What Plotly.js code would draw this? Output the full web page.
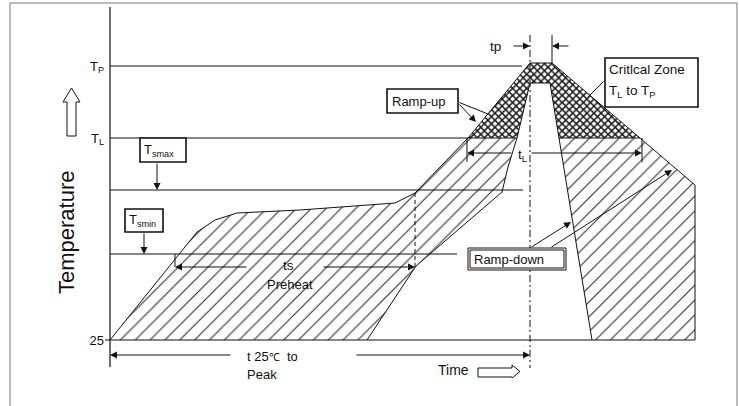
<!DOCTYPE html>
<html><head><meta charset="utf-8">
<script src="https://cdn.plot.ly/plotly-3.0.1.min.js"></script>
<style>html,body{margin:0;padding:0;background:#fff}#chart{width:739px;height:406px}</style>
</head><body><div id="chart"></div>
<script>
// ---- schematic data (time units from start, temperature units above 25 °C baseline) ----
const levelNames = ['25', 'Tsmin', 'Tsmax', 'TL', 'TP'];
const levelTemps = [0, 86, 150, 202, 274];
const tickLabels = ['25', 'T<sub>L</sub>', 'T<sub>P</sub>'];
const tickTemps = [0, 202, 274];

// maximum (upper) profile
const maxTime = [0, 87, 105, 127, 190, 285, 305, 358, 420, 442, 530, 585, 585];
const maxTemp = [0, 108, 120, 127, 130, 137, 147, 202, 277, 277, 202, 155, 0];
// minimum (lower) profile
const minTime = [257, 306, 392, 398, 407, 420, 440, 449, 482];
const minTemp = [0, 74, 148, 173, 202, 257, 257, 202, 0];

// time markers
const markerNames = ['tsStart', 'tsEnd', 'tLStart', 'tLEnd', 'tpStart', 'tpEnd'];
const markerTimes = [65, 305, 357, 532, 420, 442];

// ---- build geometry from the arrays ----
const FONT = 'Liberation Sans, Arial, sans-serif';
const TL = levelTemps[3];
const iMaxL = maxTemp.indexOf(TL), iMaxR = maxTemp.lastIndexOf(TL);
const iMinL = minTemp.indexOf(TL), iMinR = minTemp.lastIndexOf(TL);
function piece(a0, a1, b0, b1) {
  const xs = maxTime.slice(a0, a1 + 1).concat(minTime.slice(b0, b1 + 1).reverse());
  const ys = maxTemp.slice(a0, a1 + 1).concat(minTemp.slice(b0, b1 + 1).reverse());
  xs.push(xs[0]); ys.push(ys[0]);
  return [xs, ys];
}
const left = piece(0, iMaxL, 0, iMinL);
const right = piece(iMaxR, maxTime.length - 1, iMinR, minTime.length - 1);
const zone = piece(iMaxL, iMaxR, iMinL, iMinR);
const bandX = left[0].concat([null], right[0]);
const bandY = left[1].concat([null], right[1]);

const ts0 = markerTimes[0], ts1 = markerTimes[1], tl0 = markerTimes[2], tl1 = markerTimes[3];
const tp0 = markerTimes[4], tp1 = markerTimes[5];
const endT = maxTime[maxTime.length - 1];

// reference lines: [startTime, endTime, temp]
const refSegs = [
  [-5, endT, levelTemps[0]],
  [0, 347, levelTemps[1]],
  [0, 413, levelTemps[2]],
  [0, minTime[iMinL], levelTemps[3]],
  [minTime[iMinR], maxTime[iMaxR], levelTemps[3]],
  [0, 412, levelTemps[4]]
];
const refX = [], refY = [];
refSegs.forEach(s => { refX.push(s[0], s[1], null); refY.push(s[2], s[2], null); });

const black = '#111';
const traces = [
  {x: bandX, y: bandY, mode: 'lines', fill: 'toself', line: {width: 0}, fillcolor: 'white',
   fillpattern: {shape: '/', size: 10.5, solidity: 0.11, fgcolor: '#333', bgcolor: 'white'}, hoverinfo: 'skip'},
  {x: zone[0], y: zone[1], mode: 'lines', fill: 'toself', line: {width: 0}, fillcolor: 'white',
   fillpattern: {shape: 'x', size: 5, solidity: 0.5, fgcolor: '#1a1a1a', bgcolor: 'white'}, hoverinfo: 'skip'},
  {x: refX, y: refY, mode: 'lines', line: {color: black, width: 1}, hoverinfo: 'skip'},
  {x: maxTime, y: maxTemp, mode: 'lines', line: {color: black, width: 1}, hoverinfo: 'skip'},
  {x: minTime, y: minTemp, mode: 'lines', line: {color: black, width: 1}, hoverinfo: 'skip'},
  // y axis line
  {x: [0, 0], y: [333, -27], mode: 'lines', line: {color: black, width: 1.2}, hoverinfo: 'skip'},
  // peak-time dashed marker
  {x: [tp0, tp0], y: [305, -28], mode: 'lines', line: {color: black, width: 1, dash: '7px,3px,2px,3px'}, hoverinfo: 'skip'},
  {x: [tp1, tp1], y: [305, maxTemp[iMaxL + 1]], mode: 'lines', line: {color: black, width: 1}, hoverinfo: 'skip'},
  // end of soak dashed marker
  {x: [ts1, ts1], y: [147, 73], mode: 'lines', line: {color: black, width: 1, dash: '4px,3px'}, hoverinfo: 'skip'},
  // small ticks
  {x: [ts0, ts0, null, tl0, tl0, null, tl1, tl1], y: [levelTemps[1], 73, null, TL, 178, null, TL, 178],
   mode: 'lines', line: {color: black, width: 1}, hoverinfo: 'skip'}
];

function arrow(x, y, ax, ay, head) {
  return {x: x, y: y, ax: ax, ay: ay, axref: 'x', ayref: 'y', xref: 'x', yref: 'y', text: '',
    showarrow: true, arrowhead: head === undefined ? 2 : head, arrowsize: 1.4, arrowwidth: 1, arrowcolor: black, standoff: 0};
}
function label(x, y, text, size, xanchor, extra) {
  return Object.assign({x: x, y: y, xref: 'x', yref: 'y', text: text, showarrow: false,
    xanchor: xanchor || 'left', yanchor: 'middle', font: {family: FONT, size: size || 13, color: black}}, extra || {});
}

const annotations = [
  arrow(47, levelTemps[2], 47, 178),
  arrow(34, levelTemps[1], 34, 108),
  arrow(ts0, 73, 138, 73),
  arrow(ts1, 73, 212, 73),
  arrow(tl0, 187, 403, 187),
  arrow(tl1, 187, 420, 187),
  arrow(tp0, 294, 402, 294),
  arrow(tp1, 294, 460, 294),
  arrow(366, 218, 348, 237),
  arrow(378, 226, 348, 238, 0),
  arrow(461, 118, 420, 92),
  arrow(562, 170, 440, 92),
  arrow(478, 243, 495, 260, 0),
  arrow(0, -15, 122, -15),
  arrow(tp0, -15, 245, -15),
  label(32, 190, 'T<sub>smax</sub>', 13),
  label(17, 120, 'T<sub>smin</sub>', 13),
  label(280, 239, 'Ramp-up', 13),
  label(362, 81, 'Ramp-down', 13),
  label(497, 271, 'Critlcal Zone', 13.5),
  label(497, 249, 'T<sub>L</sub> to T<sub>P</sub>', 13.5),
  label(385, 294, 'tp', 13.5, 'center'),
  label(412, 185, 't<sub>L</sub>', 13.5, 'center'),
  label(178, 75, 'ts', 13.5, 'center'),
  label(180, 56, 'Preheat', 13, 'center'),
  label(135, -16, 't 25<span style="font-size:11px">℃</span>  to', 13),
  label(135, -34, 'Peak', 13),
  label(326, -30, 'Time', 14),
  label(-44, 108, 'Temperature', 22, 'center', {textangle: -90})
];

const box = (x0, y0, x1, y1, w) => ({type: 'rect', xref: 'x', yref: 'y', x0: x0, y0: y0, x1: x1, y1: y1,
  line: {color: black, width: w || 1.6}, fillcolor: 'white', layer: 'above'});
const shapes = [
  {type: 'path', xref: 'x', yref: 'y', path: 'M -100,-66 L -100,337 L 627,337 L 627,-66',
   line: {color: '#777', width: 1}},
  box(30, 178, 76, 202),
  box(15, 108, 53, 131),
  box(277, 227, 348, 251),
  box(358, 70, 456, 92, 1),
  {type: 'rect', xref: 'x', yref: 'y', x0: 360, y0: 72, x1: 454, y1: 90, line: {color: black, width: 1}, layer: 'above'},
  box(495, 233, 588, 282),
  {type: 'path', xref: 'x', yref: 'y', path: 'M -43,204 L -34,204 L -34,238 L -30,238 L -38.5,252 L -47,238 L -43,238 Z',
   line: {color: black, width: 1}, fillcolor: 'white'},
  {type: 'path', xref: 'x', yref: 'y', path: 'M 368,-28 L 402,-28 L 402,-25 L 410,-31.5 L 402,-38 L 402,-37 L 368,-37 Z',
   line: {color: black, width: 1}, fillcolor: 'white'}
];

const layout = {
  width: 739, height: 406, margin: {l: 0, r: 0, t: 0, b: 0},
  paper_bgcolor: 'white', plot_bgcolor: 'white', showlegend: false,
  xaxis: {range: [-110, 629], visible: false, fixedrange: true},
  yaxis: {range: [-66, 340], showgrid: false, zeroline: false, showline: false, fixedrange: true,
    tickvals: tickTemps, ticktext: tickLabels, ticks: '', anchor: 'free', position: 110 / 739,
    ticklabelstandoff: 6, tickfont: {family: FONT, size: 13, color: black}},
  shapes: shapes, annotations: annotations
};
Plotly.newPlot('chart', traces, layout, {staticPlot: true, displayModeBar: false});
</script></body></html>
